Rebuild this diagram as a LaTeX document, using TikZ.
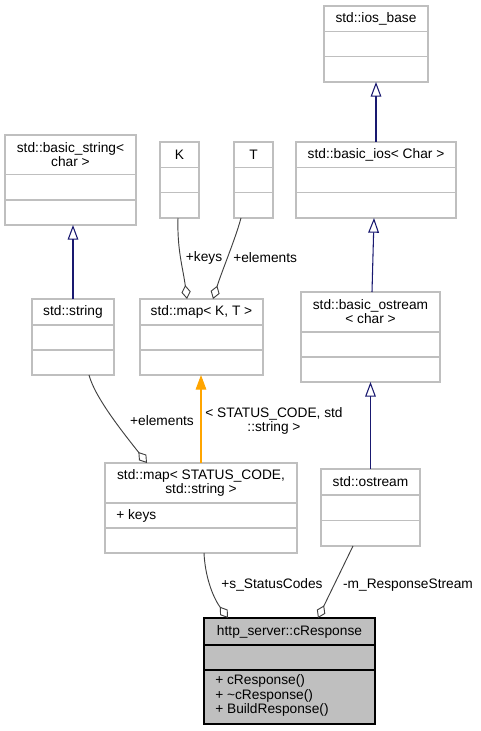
\documentclass[tikz,border=0pt]{standalone}
\usepackage{fontspec}
\setmainfont{Liberation Sans}
\usetikzlibrary{arrows.meta}
\definecolor{BoxGrey}{HTML}{BFBFBF}
\definecolor{InheritBlue}{HTML}{191970}
\definecolor{AggrInk}{HTML}{404040}
\definecolor{TmplOrange}{HTML}{FFA500}

\tikzset{
  classbox/.style={draw=BoxGrey, line width=0.8pt, inner sep=0pt, outer sep=0pt, anchor=north west},
  classtext/.style={font=\fontsize{10.3}{10.6}\selectfont, inner sep=0pt, align=center},
  edgelabel/.style={font=\fontsize{10.3}{10.6}\selectfont, inner sep=0pt, align=center},
  inherit/.style={draw=InheritBlue, line width=0.8pt, -{Triangle[open, length=11pt, width=8pt]}},
  tmpl/.style={draw=TmplOrange, line width=0.8pt, -{Triangle[length=11pt, width=8pt]}},
  aggr/.style={draw=AggrInk, line width=0.7pt, {Diamond[open, length=10.5pt, width=7pt]}-},
}

% [style]{name}{x1}{y1}{x2}{y2}{divider 1}{divider 2}{title}
\newcommand{\umlclass}[9][]{%
  \node[classbox,#1,minimum width={(#5-#3)*0.75pt},minimum height={(#6-#4)*0.75pt}] (#2) at (#3,#4) {};
  \draw[draw=BoxGrey,line width=0.8pt,#1] (#3,#7) -- (#5,#7) (#3,#8) -- (#5,#8);
  \node[classtext] (#2-title) at ({(#3+#5)/2},{(#4+#7)/2}) {#9};
}

\begin{document}
\begin{tikzpicture}[x=0.75pt,y=-0.75pt]
  \useasboundingbox (0,0) rectangle (481,731);

  % classes
  \umlclass{iosbase}{324}{6}{428}{82}{31.5}{56.5}{std::ios\_base}
  \umlclass{basicios}{296}{142}{456}{218}{167.5}{192.5}{std::basic\_ios< Char >}
  \umlclass{basicostream}{301}{292}{440}{382}{332}{357}{std::basic\_ostream\\< char >}
  \umlclass{ostream}{321}{469}{420}{546}{495}{520.5}{std::ostream}
  \umlclass{bstring}{5}{135}{136}{225}{174.5}{200}{std::basic\_string<\\ char >}
  \umlclass{K}{160}{142}{199}{218}{167.5}{192.5}{K}
  \umlclass{T}{234}{142}{273}{218}{167.5}{192.5}{T}
  \umlclass{string}{32}{299}{114}{375}{325}{350}{std::string}
  \umlclass{mapKT}{140}{299}{263}{375}{325}{350}{std::map< K, T >}
  \umlclass{mapSC}{105}{463}{297}{553}{503}{528}{std::map< STATUS\_CODE,\\ std::string >}
  \umlclass[fill=BoxGrey,draw=black]{cresp}{204}{618}{375}{724}{645}{670}{http\_server::cResponse}

  \node[classtext, anchor=west] (mapSC-attr) at (116,515.5) {+ keys};
  \node[classtext, anchor=west, align=left] (cresp-ops) at (215,695.5)
    {+ cResponse()\\+ \textasciitilde cResponse()\\+ BuildResponse()};

  % inheritance
  \draw[inherit] (string.north) -- (bstring.south -| string.north);
  \draw[inherit] (ostream.north) -- (basicostream.south);
  \draw[inherit] (basicostream.north -| 372,0) -- (basicios.south -| 374,0);
  \draw[inherit] (basicios.north) -- (iosbase.south);

  % template instance
  \draw[tmpl] (mapSC.north -| 201,0) -- (mapKT.south -| 201,0);
  \node[edgelabel] (tmpl-lbl) at (274,421) {< STATUS\_CODE, std\\::string >};

  % members
  \draw[aggr] (mapKT.north -| 187,0) .. controls (183,268) and (177,250) .. (K.south -| 178,0);
  \draw[aggr] (mapKT.north -| 213,0) .. controls (223,268) and (235,240) .. (T.south -| 241,0);
  \draw[aggr] (mapSC.north -| 147,0) .. controls (125,435) and (95,398) .. (string.south -| 89,0);
  \draw[aggr] (cresp.north -| 228,0) .. controls (212,596) and (205,575) .. (mapSC.south -| 204,0);
  \draw[aggr] (cresp.north -| 318,0) -- (ostream.south -| 353,0);

  \node[edgelabel] (keys-lbl) at (204,258) {+keys};
  \node[edgelabel, anchor=west] (elem-lbl) at (233,258) {+elements};
  \node[edgelabel] (selem-lbl) at (162,421) {+elements};
  \node[edgelabel] (codes-lbl) at (272,585) {+s\_StatusCodes};
  \node[edgelabel] (stream-lbl) at (408,585) {-m\_ResponseStream};
\end{tikzpicture}
\end{document}
